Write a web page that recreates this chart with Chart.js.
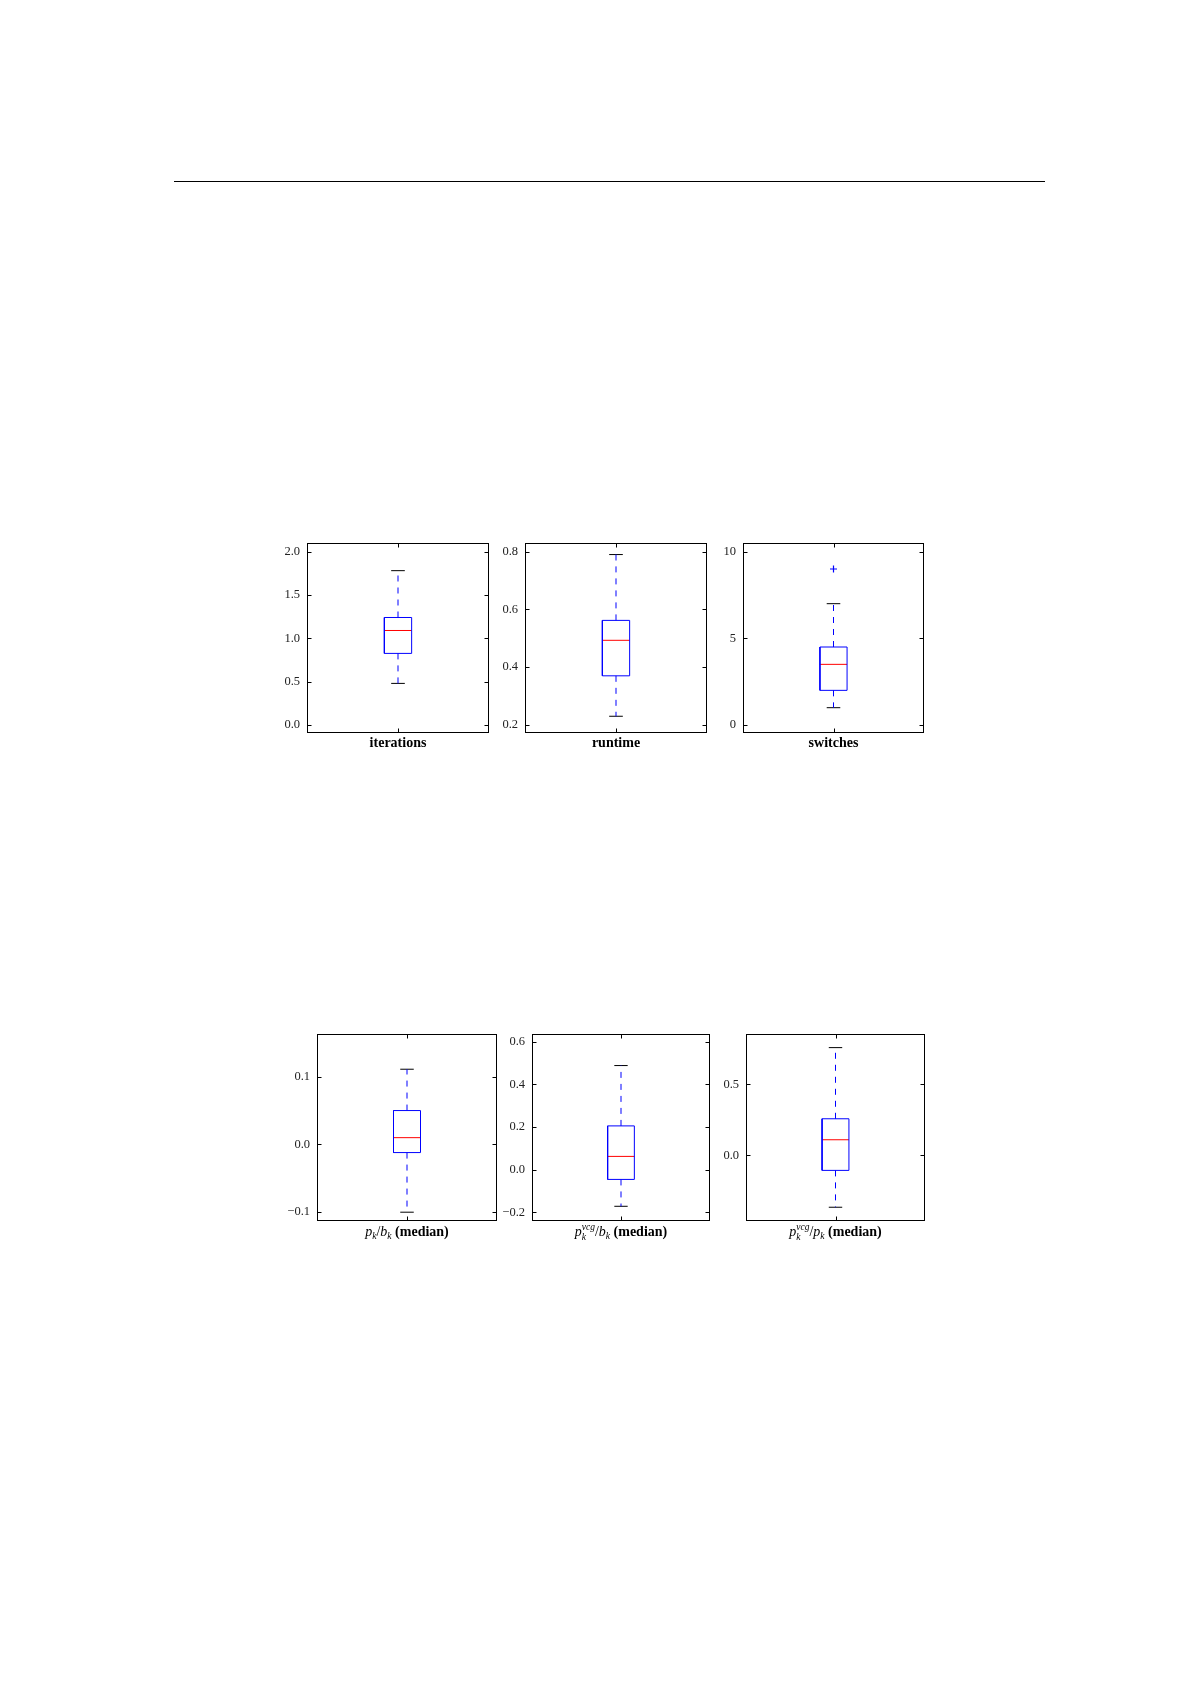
<!DOCTYPE html>
<html>
<head>
<meta charset="utf-8">
<script src="https://cdn.jsdelivr.net/npm/chart.js@4.4.1/dist/chart.umd.min.js"></script>
<style>
  html, body { margin: 0; padding: 0; background: #fff; }
  body { width: 1191px; height: 1684px; position: relative; overflow: hidden; font-family: "Liberation Serif", serif; }
  .rule { position: absolute; left: 174px; top: 181px; width: 871px; height: 1px; background: #000; }
  .panel { position: absolute; }
  .mlabel { position: absolute; height: 18px; line-height: 18px; text-align: center; font-size: 14px; color: #000; white-space: nowrap; }
  .mlabel i { font-style: italic; }
  .mlabel b { font-weight: bold; }
  .mlabel sub { font-size: 0.68em; font-style: italic; vertical-align: -0.35em; line-height: 0; }
  .ss { display: inline-block; font-size: 0.68em; font-style: italic; line-height: 1; vertical-align: -0.45em; text-align: left; }
  .ss span { display: block; }
</style>
</head>
<body>
<div class="rule"></div>

<script>
// ---------------- data ----------------
const panelLabels = ["iterations", "runtime", "switches", "p_k/b_k (median)", "p_k^vcg/b_k (median)", "p_k^vcg/p_k (median)"];
const whiskerLow  = [0.48, 0.23, 1.0, -0.100, -0.172, -0.366];
const quartile1   = [0.826, 0.370, 2.0, -0.012, -0.046, -0.106];
const medians     = [1.090, 0.493, 3.5, 0.010, 0.062, 0.110];
const quartile3   = [1.240, 0.562, 4.5, 0.050, 0.205, 0.258];
const whiskerHigh = [1.780, 0.790, 7.0, 0.111, 0.488, 0.760];
const outliers    = [[], [], [9], [], [], []];
const yMinValues  = [-0.092, 0.172, -0.46, -0.113, -0.241, -0.463];
const yMaxValues  = [2.099, 0.830, 10.5, 0.163, 0.636, 0.856];
const yTickValues = [[0, 0.5, 1.0, 1.5, 2.0], [0.2, 0.4, 0.6, 0.8], [0, 5, 10], [-0.1, 0.0, 0.1], [-0.2, 0.0, 0.2, 0.4, 0.6], [0.0, 0.5]];
const yTickLabels = [["0.0", "0.5", "1.0", "1.5", "2.0"], ["0.2", "0.4", "0.6", "0.8"], ["0", "5", "10"], ["\u22120.1", "0.0", "0.1"], ["\u22120.2", "0.0", "0.2", "0.4", "0.6"], ["0.0", "0.5"]];
const boxPosition = 1;

// ---------------- layout / style ----------------
const axesBoxes = [
  { left: 307, top: 543, width: 182, height: 190 },
  { left: 525, top: 543, width: 182, height: 190 },
  { left: 743, top: 543, width: 181, height: 190 },
  { left: 317, top: 1034, width: 180, height: 187 },
  { left: 532, top: 1034, width: 178, height: 187 },
  { left: 746, top: 1034, width: 179, height: 187 }
];
const htmlLabels = [null, null, null,
  '<i>p</i><sub>k</sub>/<i>b</i><sub>k</sub> <b>(median)</b>',
  '<i>p</i><span class="ss"><span>vcg</span><span>k</span></span>/<i>b</i><sub>k</sub> <b>(median)</b>',
  '<i>p</i><span class="ss"><span>vcg</span><span>k</span></span>/<i>p</i><sub>k</sub> <b>(median)</b>'
];
const PAD_L = 45, PAD_T = 26, PAD_R = 10, PAD_B = 26;
const BOX_HALF = 0.075, CAP_HALF = 0.0375;
const BLUE = '#0000ff', RED = '#ff0000', BLACK = '#000000';
const TICK_FONT = { family: 'Liberation Serif', size: 12.5 };
const TITLE_FONT = { family: 'Liberation Serif', size: 14, weight: 'bold' };

const frameTicks = {
  id: 'frameTicks',
  afterDraw(chart) {
    const ctx = chart.ctx;
    const a = chart.chartArea;
    const l = Math.round(a.left) + 0.5, r = Math.round(a.right) - 0.5;
    const t = Math.round(a.top) + 0.5, b = Math.round(a.bottom) - 0.5;
    ctx.save();
    ctx.strokeStyle = BLACK;
    ctx.lineWidth = 1;
    ctx.strokeRect(l, t, r - l, b - t);
    const ys = chart.scales.y, xs = chart.scales.x;
    ctx.beginPath();
    ys.ticks.forEach(tk => {
      const py = Math.round(ys.getPixelForValue(tk.value)) + 0.5;
      ctx.moveTo(l, py); ctx.lineTo(l + 4, py);
      ctx.moveTo(r, py); ctx.lineTo(r - 4, py);
    });
    const px = Math.round(xs.getPixelForValue(boxPosition)) + 0.5;
    ctx.moveTo(px, b); ctx.lineTo(px, b - 4);
    ctx.moveTo(px, t); ctx.lineTo(px, t + 4);
    ctx.stroke();
    ctx.restore();
  }
};

function seg(x0, y0, x1, y1) { return [{ x: x0, y: y0 }, { x: x1, y: y1 }]; }

axesBoxes.forEach((box, i) => {
  const div = document.createElement('div');
  div.className = 'panel';
  const w = box.width + PAD_L + PAD_R, h = box.height + PAD_T + PAD_B;
  div.style.left = (box.left - PAD_L) + 'px';
  div.style.top = (box.top - PAD_T) + 'px';
  div.style.width = w + 'px';
  div.style.height = h + 'px';
  const canvas = document.createElement('canvas');
  div.appendChild(canvas);
  document.body.appendChild(div);

  const c = boxPosition;
  const line = (data, color, dash) => ({
    data, showLine: true, borderColor: color, borderWidth: 1, borderDash: dash || [],
    pointRadius: 0, pointHoverRadius: 0, fill: false, tension: 0
  });
  const datasets = [
    line([{ x: c - BOX_HALF, y: quartile1[i] }, { x: c + BOX_HALF, y: quartile1[i] },
          { x: c + BOX_HALF, y: quartile3[i] }, { x: c - BOX_HALF, y: quartile3[i] },
          { x: c - BOX_HALF, y: quartile1[i] }], BLUE),
    line(seg(c, quartile3[i], c, whiskerHigh[i]), BLUE, [6, 6]),
    line(seg(c, quartile1[i], c, whiskerLow[i]), BLUE, [6, 6]),
    line(seg(c - CAP_HALF, whiskerHigh[i], c + CAP_HALF, whiskerHigh[i]), BLACK),
    line(seg(c - CAP_HALF, whiskerLow[i], c + CAP_HALF, whiskerLow[i]), BLACK),
    line(seg(c - BOX_HALF, medians[i], c + BOX_HALF, medians[i]), RED),
    {
      data: outliers[i].map(v => ({ x: c, y: v })), showLine: false,
      pointStyle: 'cross', pointRadius: 3.5, pointBorderWidth: 1.2, borderColor: BLUE, backgroundColor: BLUE
    }
  ];

  new Chart(canvas, {
    type: 'scatter',
    data: { datasets },
    options: {
      responsive: true, maintainAspectRatio: false, animation: false,
      events: [],
      layout: { padding: { left: 0, top: PAD_T, right: PAD_R, bottom: 0 } },
      plugins: { legend: { display: false }, tooltip: { enabled: false } },
      scales: {
        x: {
          type: 'linear', min: 0.5, max: 1.5,
          grid: { display: false }, border: { display: false },
          ticks: { display: false },
          title: { display: !htmlLabels[i], text: panelLabels[i], font: TITLE_FONT, color: BLACK, padding: { top: 0, bottom: PAD_B - 10.3 - 8.4 } },
          afterFit(s) { s.height = PAD_B; }
        },
        y: {
          type: 'linear', min: yMinValues[i], max: yMaxValues[i], bounds: 'data',
          grid: { display: false, drawTicks: false }, border: { display: false },
          ticks: {
            font: TICK_FONT, color: '#222', padding: 7,
            callback: (v) => { const k = yTickValues[i].indexOf(v); return k >= 0 ? yTickLabels[i][k] : ''; }
          },
          afterBuildTicks(s) { s.ticks = yTickValues[i].map(v => ({ value: v })); },
          afterFit(s) { s.width = PAD_L; }
        }
      }
    },
    plugins: [frameTicks]
  });

  if (htmlLabels[i]) {
    const lab = document.createElement('div');
    lab.className = 'mlabel';
    lab.style.left = box.left + 'px';
    lab.style.width = box.width + 'px';
    lab.style.top = (box.top + box.height + 10.7 - 9) + 'px';
    lab.innerHTML = htmlLabels[i];
    document.body.appendChild(lab);
  }
});
</script>
</body>
</html>
